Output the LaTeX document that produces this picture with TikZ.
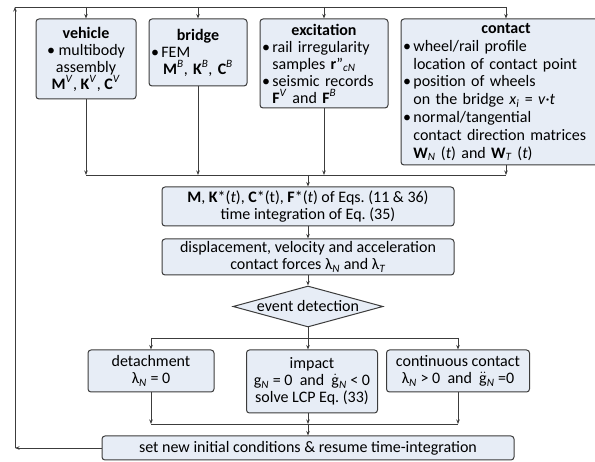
\documentclass[tikz,border=0pt]{standalone}
\usepackage{fontspec}
\setmainfont{Carlito}
\usetikzlibrary{arrows.meta,shapes.geometric,positioning}
\definecolor{boxfill}{HTML}{E7EDF6}
\definecolor{linegray}{HTML}{3C3C3C}
\tikzset{
  blk/.style={draw=linegray, fill=boxfill, line width=1pt, rounded corners=3pt,
    inner xsep=2pt, inner ysep=1pt, align=center, font=\fontsize{16}{17}\selectfont},
  dec/.style={draw=linegray, fill=boxfill, line width=1pt, shape=diamond, aspect=3.66,
    inner sep=0pt, minimum width=150pt, minimum height=41pt, font=\fontsize{16}{17}\selectfont},
  arr/.style={-{Stealth[length=4.5pt,width=3.5pt]}, linegray, line width=0.9pt},
  ln/.style={linegray, line width=0.9pt},
}
\frenchspacing
\newcommand{\bul}{\makebox[0.65em][l]{\textbullet}}
\newcommand{\ind}{\hspace*{0.65em}}
\newcommand{\sbs}[1]{\textsubscript{\textit{#1}}}
\newcommand{\sps}[1]{\textsuperscript{\textit{#1}}}
\begin{document}
\begin{tikzpicture}[x=1pt,y=-1pt]
\useasboundingbox (0,0) rectangle (595,462);
% input boxes
\node[blk, minimum width=100pt, minimum height=80pt] (veh) at (86,59)
  {\textbf{vehicle}\\ \textbullet\ multibody\\ assembly\\ \textbf{M}\sps{V}, \textbf{K}\sps{V}, \textbf{C}\sps{V}};
\node[blk, text width=94pt, minimum height=67pt, align=left] (brg) at (198,52.5)
  {\makebox[\linewidth]{\textbf{bridge}}\\ \bul FEM\\ \makebox[\linewidth]{\textbf{M}\sps{B}, \textbf{K}\sps{B}, \textbf{C}\sps{B}}};
\node[blk, text width=124pt, minimum height=89pt, align=left] (exc) at (324,63.5)
  {\makebox[\linewidth]{\textbf{excitation}}\\ \bul rail irregularity\\ \ind samples \textbf{r}''\sbs{cN}\\ \bul seismic records\\ \ind\textbf{F}\sps{V} and \textbf{F}\sps{B}};
\node[blk, text width=206pt, minimum height=146pt, align=left, font=\fontsize{16}{17.8}\selectfont] (con) at (506,92)
  {\makebox[\linewidth]{\textbf{contact}}\\ \bul wheel/rail profile\\ \ind location of contact point\\ \bul position of wheels\\ \ind on the bridge \textit{x}\sbs{i} = \textit{v}·\textit{t}\\ \bul normal/tangential\\ \ind contact direction matrices\\ \ind\textbf{W}\sbs{N} (\textit{t}) and \textbf{W}\sbs{T} (\textit{t})};
% solver chain
\node[blk, minimum width=292pt, minimum height=39pt] (mat) at (308,206.5)
  {\textbf{M}, \textbf{K}*(\textit{t}), \textbf{C}*(t), \textbf{F}*(\textit{t}) of Eqs. (11 \& 36)\\ time integration of Eq. (35)};
\node[blk, minimum width=292pt, minimum height=36pt] (res) at (308,257)
  {displacement, velocity and acceleration\\ contact forces λ\sbs{N} and λ\sbs{T}};
\node[dec] (evt) at (308,306.5) {event detection};
% cases
\node[blk, minimum width=126pt, minimum height=42pt] (det) at (151,371)
  {detachment\\ λ\sbs{N} = 0};
\node[blk, minimum width=131pt, minimum height=63pt] (imp) at (312,381.5)
  {impact\\ g\sbs{N} = 0 \ and \ $\dot{\mbox{g}}$\sbs{N} < 0\\ solve LCP Eq. (33)};
\node[blk, minimum width=143pt, minimum height=42pt] (cnt) at (458,371)
  {continuous contact\\ λ\sbs{N} > 0 \ and \ $\ddot{\mbox{g}}$\sbs{N} =0};
\node[blk, minimum width=412pt, minimum height=24pt] (set) at (308,448)
  {set new initial conditions \& resume time-integration};
% helper levels
\coordinate (tl) at (15,7);
\coordinate (gat) at (0,175);
\coordinate (spl) at (0,338);
\coordinate (mrg) at (0,424);
% feedback loop
\draw[arr] (set.west) -- (set.west -| tl);
\draw[arr] (set.west -| tl) -- (tl);
\draw[ln] (tl) -- (tl -| con.north);
\foreach \b in {veh,brg,exc,con} \draw[arr] (tl -| \b.north) -- (\b.north);
% gather inputs
\foreach \b in {veh,brg,exc,con} \draw[arr] (\b.south) -- (\b.south |- gat);
\draw[ln] (veh.south |- gat) -- (con.south |- gat);
\draw[arr] (mat.north |- gat) -- (mat.north);
\draw[arr] (mat.south) -- (res.north);
\draw[arr] (res.south) -- (evt.north);
% split and merge
\draw[ln] (evt.south) -- (evt.south |- spl);
\draw[ln] (det.north |- spl) -- (cnt.north |- spl);
\foreach \b in {det,cnt} \draw[arr] (\b.north |- spl) -- (\b.north);
\draw[arr] (evt.south |- spl) -- (evt.south |- imp.north);
\foreach \b in {det,cnt} \draw[arr] (\b.south) -- (\b.south |- mrg);
\draw[arr] (evt.south |- imp.south) -- (evt.south |- mrg);
\draw[ln] (det.south |- mrg) -- (cnt.south |- mrg);
\draw[arr] (evt.south |- mrg) -- (set.north);
\end{tikzpicture}
\end{document}
